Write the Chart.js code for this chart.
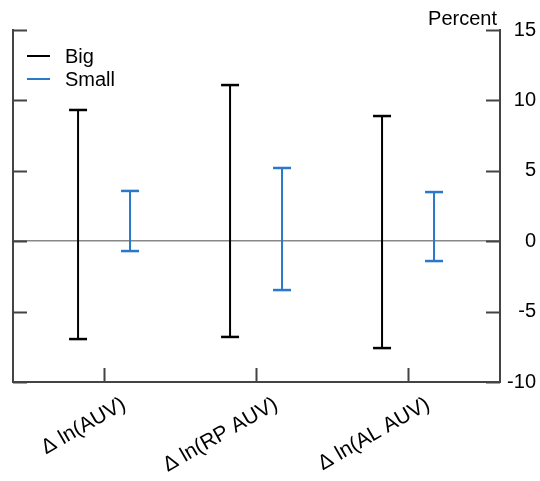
<!DOCTYPE html>
<html>
<head>
<meta charset="utf-8">
<script src="https://cdn.jsdelivr.net/npm/chart.js@4.4.1/dist/chart.umd.min.js"></script>
<style>
  html, body { margin: 0; padding: 0; background: #fff; }
  #wrap { width: 540px; height: 481px; }
</style>
</head>
<body>
<div id="wrap"><canvas id="err-chart"></canvas></div>
<script>
// data
const categories = ['Δ ln(AUV)', 'Δ ln(RP AUV)', 'Δ ln(AL AUV)'];
const bigLow = [-6.95, -6.80, -7.59];
const bigHigh = [9.32, 11.09, 8.89];
const smallLow = [-0.70, -3.47, -1.41];
const smallHigh = [3.57, 5.20, 3.49];
const yTicks = [-10, -5, 0, 5, 10, 15];

const FAMILY = "'Liberation Sans', Arial, sans-serif";
const FONT = { family: FAMILY, size: 20 };
const XFONT = { family: FAMILY, size: 21 };
const AXIS = '#444444';
const SHIFT = 0.171; // half gap between the two bars of a group

// each bar: low point, high point, then a gap
function bars(lo, hi, dx) {
  const pts = [];
  lo.forEach((v, i) => {
    pts.push({ x: i + 1 + dx, y: v });
    pts.push({ x: i + 1 + dx, y: hi[i] });
    pts.push({ x: i + 1 + dx, y: null });
  });
  return pts;
}

// inward ticks on left, right and bottom, legend and the "Percent" label
const frame = {
  id: 'frame',
  afterDraw(chart) {
    const { ctx, chartArea: a, scales } = chart;
    ctx.save();
    ctx.strokeStyle = AXIS;
    ctx.lineWidth = 2;
    ctx.beginPath();
    yTicks.forEach(v => {
      const py = Math.round(scales.y.getPixelForValue(v)) + 0.5;
      ctx.moveTo(a.left, py); ctx.lineTo(a.left + 14, py);
      ctx.moveTo(a.right, py); ctx.lineTo(a.right - 14, py);
    });
    categories.forEach((c, i) => {
      const px = Math.round(scales.x.getPixelForValue(i + 1)) + 0.5;
      ctx.moveTo(px, a.bottom); ctx.lineTo(px, a.bottom - 14);
    });
    ctx.stroke();

    ctx.fillStyle = '#000';
    ctx.font = FONT.size + 'px ' + FAMILY;
    ctx.textAlign = 'right';
    ctx.textBaseline = 'alphabetic';
    ctx.fillText('Percent', a.right - 3, 25);

    // legend
    ctx.textAlign = 'left';
    ctx.textBaseline = 'middle';
    chart.data.datasets.forEach((ds, i) => {
      const ly = 56 + i * 23;
      ctx.strokeStyle = ds.borderColor;
      ctx.lineWidth = 2;
      ctx.beginPath();
      ctx.moveTo(a.left + 14, ly); ctx.lineTo(a.left + 37, ly);
      ctx.stroke();
      ctx.fillStyle = '#000';
      ctx.fillText(ds.label, a.left + 52, ly + 1);
    });
    ctx.restore();
  }
};

new Chart(document.getElementById('err-chart'), {
  type: 'line',
  data: {
    datasets: [{
      label: 'Big',
      data: bars(bigLow, bigHigh, -SHIFT),
      borderColor: '#000000',
      backgroundColor: '#000000',
      borderWidth: 2,
      pointStyle: 'line',
      pointRadius: 9,
      pointHoverRadius: 9,
      pointBorderWidth: 2.5,
      pointBorderColor: '#000000'
    },
    {
      label: 'Small',
      data: bars(smallLow, smallHigh, SHIFT),
      borderColor: '#2a78c8',
      backgroundColor: '#2a78c8',
      borderWidth: 2,
      pointStyle: 'line',
      pointRadius: 9,
      pointHoverRadius: 9,
      pointBorderWidth: 2.5,
      pointBorderColor: '#2a78c8'
    }]
  },
  options: {
    responsive: true,
    maintainAspectRatio: false,
    animation: false,
    layout: { padding: { top: 30, left: 13, right: 4, bottom: 0 } },
    plugins: {
      tooltip: { enabled: false },
      legend: { display: false }
    },
    scales: {
      x: {
        type: 'linear',
        position: 'bottom',
        min: 0.401,
        max: 3.605,
        afterBuildTicks: (scale) => {
          scale.ticks = categories.map((c, i) => ({ value: i + 1 }));
        },
        afterFit: (scale) => { scale.height = 99; },
        grid: { display: false, drawTicks: false },
        border: { color: AXIS, width: 2 },
        ticks: {
          autoSkip: false,
          maxRotation: 30,
          minRotation: 30,
          padding: 10,
          labelOffset: 20,
          color: '#000',
          font: XFONT,
          callback: (v) => categories[v - 1]
        }
      },
      y: {
        position: 'right',
        min: -10,
        max: 15,
        afterBuildTicks: (scale) => {
          scale.ticks = yTicks.map(v => ({ value: v }));
        },
        afterFit: (scale) => { scale.width = 36; },
        grid: {
          drawTicks: false,
          lineWidth: 1.5,
          color: (ctx) => ctx.tick && ctx.tick.value === 0 ? '#888888' : 'rgba(0,0,0,0)'
        },
        border: { color: AXIS, width: 2 },
        ticks: {
          padding: 6,
          crossAlign: 'far',
          color: '#000',
          font: FONT
        }
      },
      y2: {
        position: 'left',
        min: -10,
        max: 15,
        afterFit: (scale) => { scale.width = 0; },
        grid: { display: false, drawTicks: false },
        border: { color: AXIS, width: 2 },
        ticks: { display: false }
      }
    }
  },
  plugins: [frame]
});
</script>
</body>
</html>
